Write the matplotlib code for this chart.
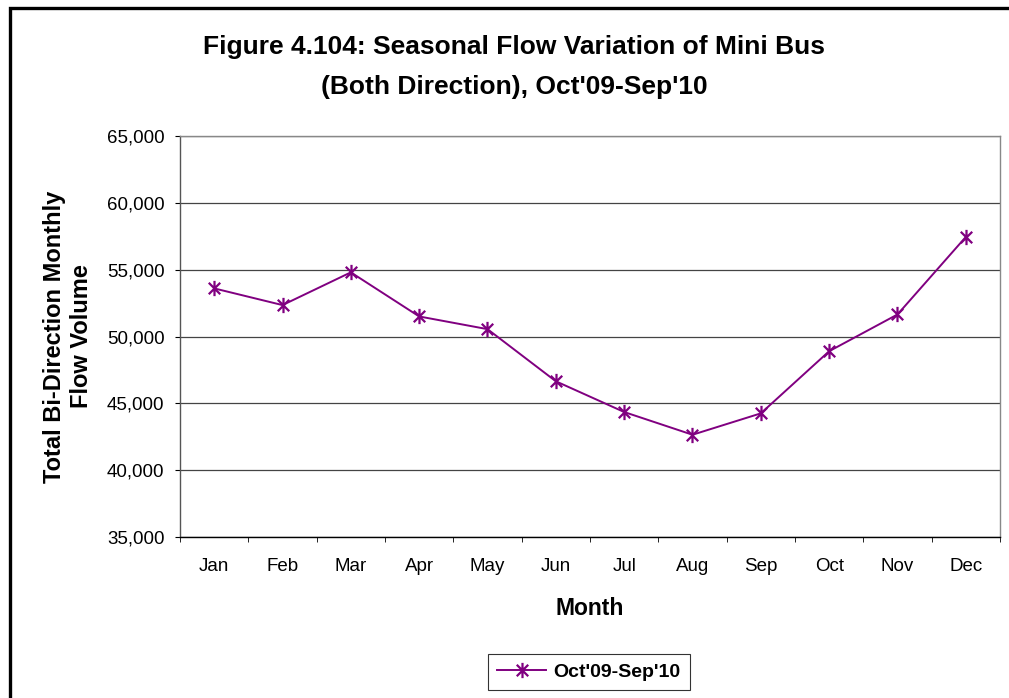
import matplotlib
matplotlib.use("Agg")
import matplotlib.pyplot as plt
from matplotlib.path import Path
from matplotlib.patches import Rectangle
from matplotlib.ticker import FuncFormatter, FixedLocator, MultipleLocator

plt.rcParams['font.family'] = ['Liberation Sans', 'DejaVu Sans']

months = ["Jan", "Feb", "Mar", "Apr", "May", "Jun",
          "Jul", "Aug", "Sep", "Oct", "Nov", "Dec"]
flow = [53600, 52350, 54800, 51500, 50550, 46650,
        44350, 42650, 44250, 48900, 51650, 57450]
series_name = "Oct'09-Sep'10"

W, H, DPI = 1009, 698, 100
fig = plt.figure(figsize=(W / DPI, H / DPI), dpi=DPI)

# Chart frame (only the top and left edges fall inside the canvas)
fig.patches.append(Rectangle((10 / W, -0.05), 1.2, 1 - 8 / H + 0.05,
                             transform=fig.transFigure, fill=False,
                             edgecolor='black', linewidth=2.4, zorder=0))

left, right, top, bottom = 180, 1000, 136, 537
ax = fig.add_axes([left / W, 1 - bottom / H, (right - left) / W, (bottom - top) / H])

# Asterisk marker: vertical stroke plus an X
star = Path([(0, -1), (0, 1), (-0.75, -0.75), (0.75, 0.75), (-0.75, 0.75), (0.75, -0.75)],
            [Path.MOVETO, Path.LINETO, Path.MOVETO, Path.LINETO, Path.MOVETO, Path.LINETO])

x = list(range(len(months)))
ax.plot(x, flow, color='#800080', linewidth=1.4, marker=star, markersize=11,
        markeredgewidth=1.6, markeredgecolor='#800080', label=series_name,
        zorder=3, clip_on=False)

ax.set_xlim(-0.5, len(months) - 0.5)
ax.set_ylim(35000, 65000)
ax.yaxis.set_major_locator(MultipleLocator(5000))
ax.yaxis.set_major_formatter(FuncFormatter(lambda v, p: f"{int(v):,}"))
ax.set_xticks(x)
ax.set_xticklabels(months)
ax.xaxis.set_minor_locator(FixedLocator([i - 0.5 for i in range(len(months) + 1)]))
ax.tick_params(axis='x', which='major', length=0, pad=15, labelsize=13.5)
ax.tick_params(axis='x', which='minor', length=3.6, direction='out', color='black')
ax.tick_params(axis='y', length=3.6, direction='out', labelsize=13.5, pad=7.5)

ax.grid(axis='y', color='#444444', linewidth=0.9)
ax.set_axisbelow(True)
for s in ['top', 'right']:
    ax.spines[s].set_color('#888888')
    ax.spines[s].set_linewidth(1.0)
ax.spines['left'].set_color('#555555')
ax.spines['bottom'].set_color('black')
ax.spines['left'].set_linewidth(1.0)
ax.spines['bottom'].set_linewidth(1.0)

ax.set_xlabel("Month", fontsize=16.5, fontweight='bold', labelpad=16)
ax.set_ylabel("Total Bi-Direction Monthly\nFlow Volume", fontsize=17,
              fontweight='bold', linespacing=1.2)
ax.yaxis.set_label_coords(-(left - 93) / (right - left), 0.5)

fig.text(514 / W, 1 - 47 / H, "Figure 4.104: Seasonal Flow Variation of Mini Bus",
         ha='center', va='center', fontsize=19, fontweight='bold')
fig.text(514 / W, 1 - 87 / H, "(Both Direction), Oct'09-Sep'10",
         ha='center', va='center', fontsize=19, fontweight='bold')

leg = fig.legend(loc='center', bbox_to_anchor=(589 / W, 1 - 672 / H),
                 frameon=True, fancybox=False, fontsize=14, handlelength=2.5,
                 borderpad=0.45, handletextpad=0.4)
leg.get_frame().set_edgecolor('black')
leg.get_frame().set_linewidth(0.8)
for t in leg.get_texts():
    t.set_fontweight('bold')

fig.savefig("out.png", dpi=DPI)
